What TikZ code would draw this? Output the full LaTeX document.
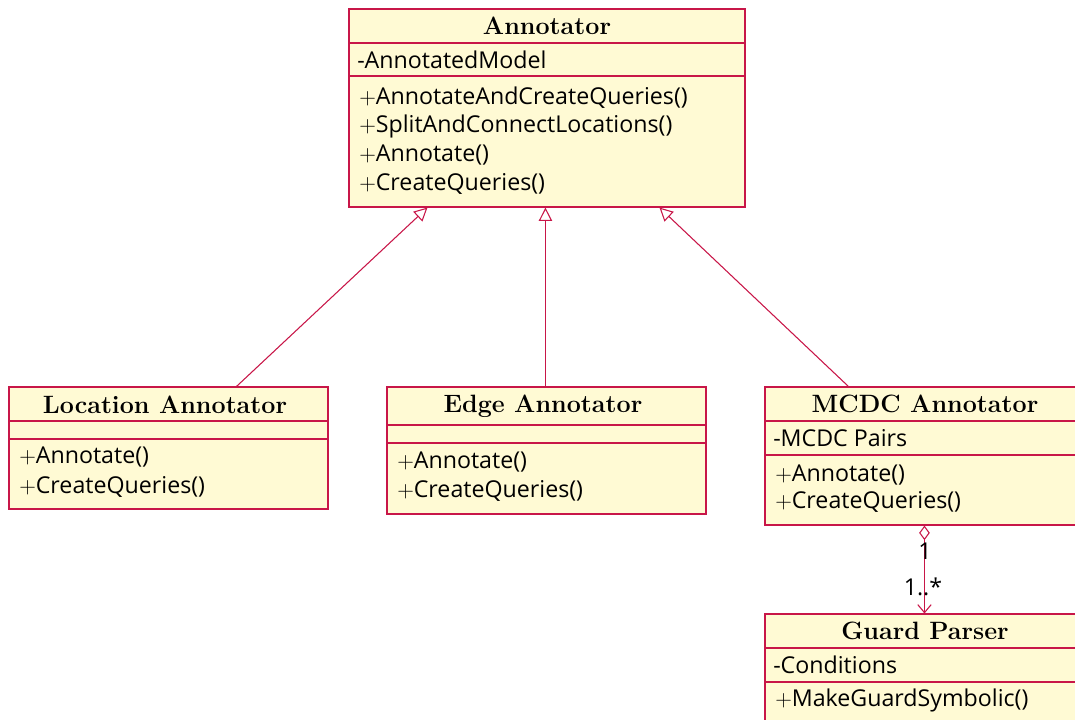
\documentclass[tikz,border=0pt]{standalone}
\usepackage{fontspec}
\setsansfont{Open Sans}
\usetikzlibrary{arrows.meta,fit,calc}
\definecolor{umlborder}{RGB}{200,22,72}
\definecolor{umlfill}{RGB}{255,250,212}
\begin{document}
\begin{tikzpicture}[x=0.75pt,y=-0.75pt,
  classbox/.style={draw=umlborder,fill=umlfill,line width=0.8pt,inner sep=0pt},
  sepline/.style={draw=umlborder,line width=0.8pt},
  title/.style={font=\fontsize{18.8}{21}\selectfont\bfseries,inner sep=0pt},
  member/.style={font=\sffamily\fontsize{17.4}{20}\selectfont,anchor=west,inner sep=0pt},
  gen/.style={draw=umlborder,line width=0.8pt,-{Triangle[open,length=10pt,width=10pt]}},
  agg/.style={draw=umlborder,line width=0.8pt,{Diamond[open,length=11pt,width=8pt]}-{Straight Barb[length=6pt,width=10pt]}},
  mult/.style={font=\sffamily\fontsize{17.4}{20}\selectfont,inner sep=0pt}]
\useasboundingbox (0,0) rectangle (1075,719);
\clip (0,0) rectangle (1075,719);

% Annotator
\node[classbox,fit={(349,9) (745,207)}] (annot) {};
\draw[sepline] (349,43) -- (745,43);
\draw[sepline] (349,76) -- (745,76);
\node[title] (annotT) at (547,26) {Annotator};
\node[member] (annotA) at (357,60) {-AnnotatedModel};
\node[member] (annotM1) at (359,98) {$+$AnnotateAndCreateQueries()};
\node[member] (annotM2) at (359,126) {$+$SplitAndConnectLocations()};
\node[member] (annotM3) at (359,155) {$+$Annotate()};
\node[member] (annotM4) at (359,184) {$+$CreateQueries()};

% Location Annotator
\node[classbox,fit={(9,387) (328,509)}] (loc) {};
\draw[sepline] (9,421) -- (328,421);
\draw[sepline] (9,439) -- (328,439);
\node[title] (locT) at (165,405) {Location Annotator};
\node[member] (locM1) at (19,457) {$+$Annotate()};
\node[member] (locM2) at (19,487) {$+$CreateQueries()};

% Edge Annotator
\node[classbox,fit={(387,387) (706,514)}] (edge) {};
\draw[sepline] (387,425) -- (706,425);
\node[title] (edgeT) at (543,406) {Edge Annotator};
\draw[sepline] (387,443) -- (706,443);
\node[member] (edgeM1) at (397,462) {$+$Annotate()};
\node[member] (edgeM2) at (397,491) {$+$CreateQueries()};

% MCDC Annotator
\node[classbox,fit={(765,387) (1085,525)}] (mcdc) {};
\draw[sepline] (765,421) -- (1085,421);
\draw[sepline] (765,455) -- (1085,455);
\node[title] (mcdcT) at (925,404) {MCDC Annotator};
\node[member] (mcdcA) at (773,438) {-MCDC Pairs};
\node[member] (mcdcM1) at (775,475) {$+$Annotate()};
\node[member] (mcdcM2) at (775,502) {$+$CreateQueries()};

% Guard Parser
\node[classbox,fit={(765,614) (1085,740)}] (guard) {};
\draw[sepline] (765,648) -- (1085,648);
\draw[sepline] (765,682) -- (1085,682);
\node[title] (guardT) at (925,631) {Guard Parser};
\node[member] (guardA) at (773,665) {-Conditions};
\node[member] (guardM1) at (775,700) {$+$MakeGuardSymbolic()};

% Generalizations
\draw[gen] ($(loc.north west)+(228,0)$) -- ($(annot.south west)+(79,0)$);
\draw[gen] ($(edge.north west)+(159,0)$) -- ($(annot.south west)+(197,0)$);
\draw[gen] ($(mcdc.north west)+(84,0)$) -- ($(annot.south west)+(311,0)$);

% Aggregation
\draw[agg] ($(mcdc.south west)+(160,0)$) -- ($(guard.north west)+(160,0)$);
\node[mult] (m1) at (925,551) {1};
\node[mult] (m2) at (923,587) {1..*};
\end{tikzpicture}
\end{document}
